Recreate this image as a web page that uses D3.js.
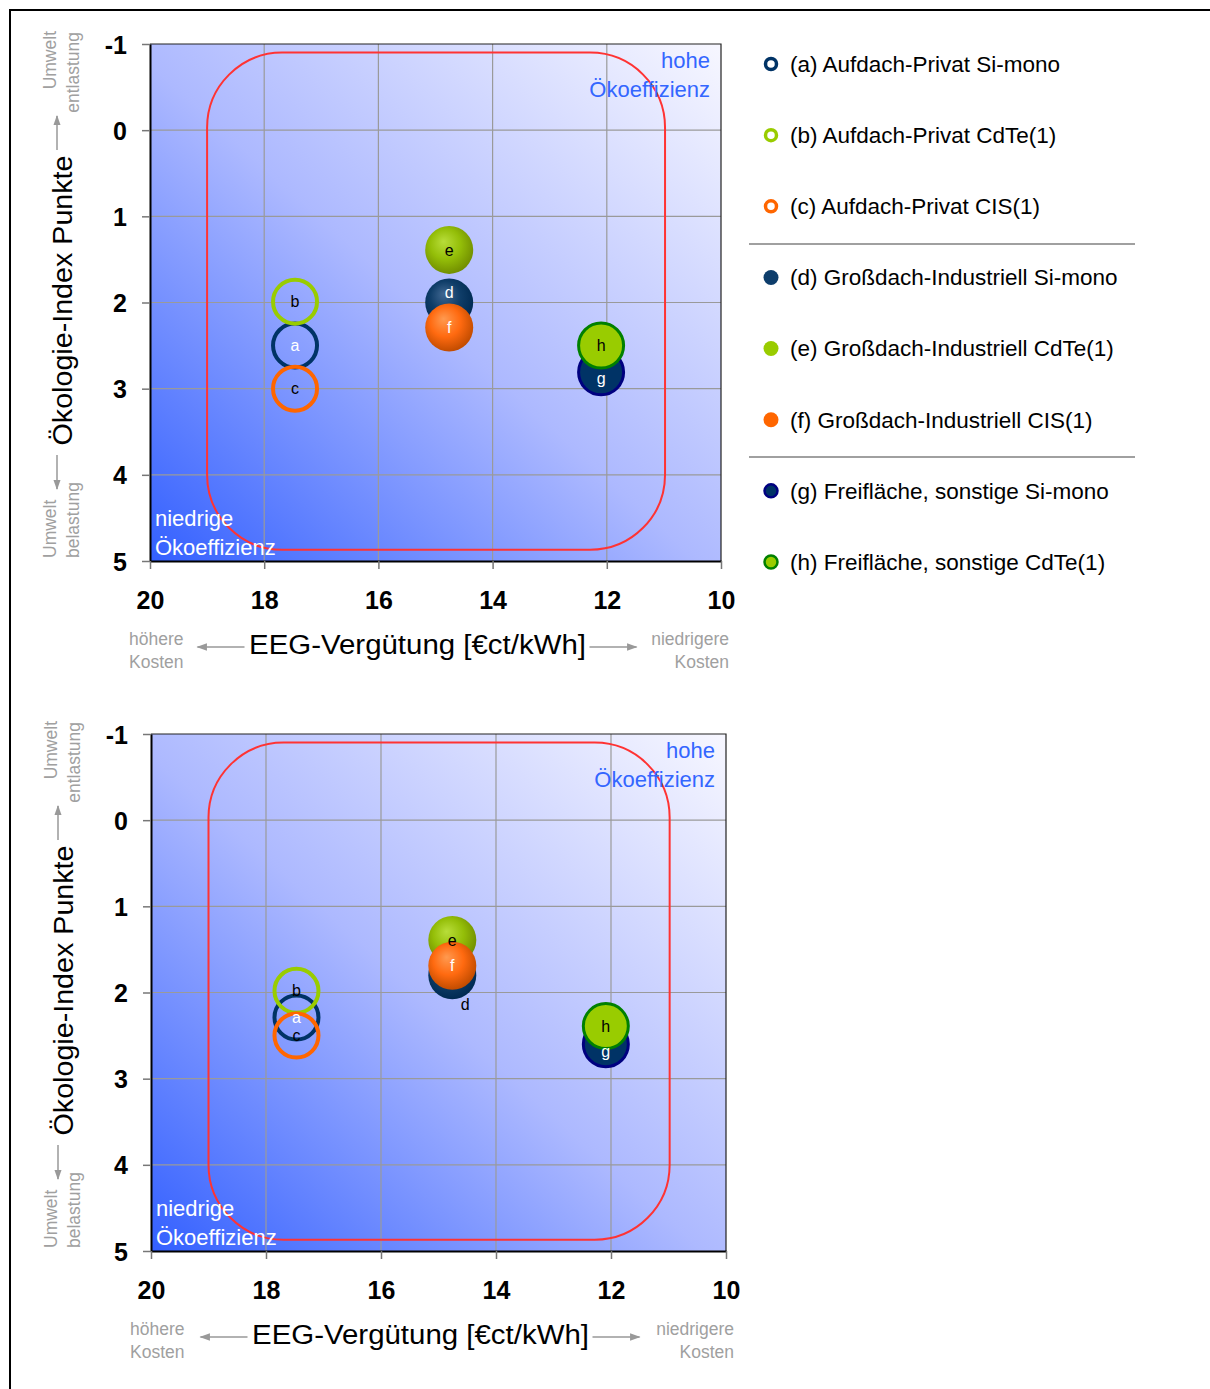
<!DOCTYPE html>
<html>
<head>
<meta charset="utf-8">
<script src="https://cdn.jsdelivr.net/npm/d3@7"></script>
<style>
  html, body { margin: 0; padding: 0; background: #fff; }
  svg { display: block; font-family: "Liberation Sans", Arial, sans-serif; }
</style>
</head>
<body>
<svg id="chart" width="1210" height="1389"></svg>
<script>
// Series identifiers and legend entries
const seriesIds = ["a", "b", "c", "d", "e", "f", "g", "h"];
const seriesLabels = [
  "(a) Aufdach-Privat Si-mono",
  "(b) Aufdach-Privat CdTe(1)",
  "(c) Aufdach-Privat CIS(1)",
  "(d) Großdach-Industriell Si-mono",
  "(e) Großdach-Industriell CdTe(1)",
  "(f) Großdach-Industriell CIS(1)",
  "(g) Freifläche, sonstige Si-mono",
  "(h) Freifläche, sonstige CdTe(1)"
];

// Upper panel: EEG feed-in tariff [€ct/kWh] and eco-index points
const tariffUpper = [17.46, 17.46, 17.46, 14.76, 14.76, 14.76, 12.1, 12.1];
const ecoUpper    = [2.5, 1.99, 3.0, 2.0, 1.39, 2.29, 2.81, 2.5];

// Lower panel
const tariffLower = [17.47, 17.47, 17.47, 14.76, 14.76, 14.76, 12.09, 12.09];
const ecoLower    = [2.29, 1.98, 2.5, 1.8, 1.39, 1.69, 2.6, 2.39];

// Axis ticks
const xTicks = [20, 18, 16, 14, 12, 10];
const yTicks = [-1, 0, 1, 2, 3, 4, 5];

// Eco-efficiency zone outline (data units)
const zoneX = [19.0, 10.98];
const zoneY = [-0.9, 4.87];

const svg = d3.select("#chart");
const defs = svg.append("defs");

// Background gradient: saturated blue bottom-left to near-white top-right
const bg = defs.append("linearGradient").attr("id", "bgGrad")
  .attr("x1", 0).attr("y1", 1).attr("x2", 1).attr("y2", 0);
bg.append("stop").attr("offset", "0%").attr("stop-color", "#3360ff");
bg.append("stop").attr("offset", "48%").attr("stop-color", "#adb9ff");
bg.append("stop").attr("offset", "100%").attr("stop-color", "#f7f7ff");

// Shaded ball gradients
function ball(id, light, mid, dark) {
  const g = defs.append("radialGradient").attr("id", id)
    .attr("cx", "45%").attr("cy", "42%").attr("r", "58%")
    .attr("fx", "38%").attr("fy", "32%");
  g.append("stop").attr("offset", "0%").attr("stop-color", light);
  g.append("stop").attr("offset", "55%").attr("stop-color", mid);
  g.append("stop").attr("offset", "100%").attr("stop-color", dark);
}
ball("ballD", "#3f6690", "#0f3d68", "#002a52");
ball("ballE", "#b8dd3a", "#94be08", "#728f00");
ball("ballF", "#ff9a50", "#ff6a10", "#c24c00");

// Marker style per series
const markerStyle = {
  a: { fill: "none", stroke: "#003366", sw: 4, text: "#ffffff" },
  b: { fill: "none", stroke: "#99cc00", sw: 4, text: "#000000" },
  c: { fill: "none", stroke: "#ff6600", sw: 4, text: "#000000" },
  d: { fill: "url(#ballD)", stroke: "none", sw: 0, text: "#ffffff" },
  e: { fill: "url(#ballE)", stroke: "none", sw: 0, text: "#000000" },
  f: { fill: "url(#ballF)", stroke: "none", sw: 0, text: "#ffffff" },
  g: { fill: "#003366", stroke: "#000080", sw: 3, text: "#ffffff" },
  h: { fill: "#99cc00", stroke: "#008000", sw: 3, text: "#000000" }
};

// Outer frame
svg.append("rect").attr("x", 10).attr("y", 10)
  .attr("width", 1220).attr("height", 1400)
  .attr("fill", "none").attr("stroke", "#000").attr("stroke-width", 2);

// Arrow marker for annotation arrows
defs.append("marker").attr("id", "arrowHead")
  .attr("viewBox", "0 0 10 10").attr("refX", 9).attr("refY", 5)
  .attr("markerWidth", 7).attr("markerHeight", 7).attr("orient", "auto")
  .append("path").attr("d", "M0,1.5 L10,5 L0,8.5 Z").attr("fill", "#999");

function drawPanel(cfg) {
  const { left, top, width, height, xs, ys, labelShift, labelColor } = cfg;
  const right = left + width, bottom = top + height;
  const x = d3.scaleLinear().domain([20, 10]).range([left, right]);
  const y = d3.scaleLinear().domain([-1, 5]).range([top, bottom]);
  const g = svg.append("g");

  // Plot background
  g.append("rect").attr("x", left).attr("y", top)
    .attr("width", width).attr("height", height).attr("fill", "url(#bgGrad)");

  // Grid
  g.append("g").selectAll("line").data(xTicks.slice(1, -1)).join("line")
    .attr("x1", d => x(d)).attr("x2", d => x(d))
    .attr("y1", top).attr("y2", bottom)
    .attr("stroke", "#9a9a9a").attr("stroke-width", 1.2);
  g.append("g").selectAll("line").data(yTicks.slice(1, -1)).join("line")
    .attr("x1", left).attr("x2", right)
    .attr("y1", d => y(d)).attr("y2", d => y(d))
    .attr("stroke", "#9a9a9a").attr("stroke-width", 1.2);

  // Thin frame on top/right
  g.append("path")
    .attr("d", `M${left},${top}H${right}V${bottom}`)
    .attr("fill", "none").attr("stroke", "#222").attr("stroke-width", 1.2);

  // Axes
  const yAxis = d3.axisLeft(y).tickValues(yTicks).tickSize(8).tickSizeOuter(0)
    .tickPadding(15).tickFormat(d => String(d));
  const xAxis = d3.axisBottom(x).tickValues(xTicks).tickSize(8).tickSizeOuter(0)
    .tickPadding(22).tickFormat(d => String(d));
  const ya = g.append("g").attr("transform", `translate(${left},0)`).call(yAxis);
  const xa = g.append("g").attr("transform", `translate(0,${bottom})`).call(xAxis);
  [ya, xa].forEach(a => {
    a.select(".domain").attr("stroke", "#000").attr("stroke-width", 2);
    a.selectAll(".tick line").attr("stroke", "#777").attr("stroke-width", 1.5);
    a.selectAll(".tick text").attr("fill", "#000")
      .style("font-size", "25px").style("font-weight", "bold")
      .style("font-family", "'Liberation Sans', Arial, sans-serif");
  });
  ya.selectAll(".tick text").attr("dy", "0.36em");
  xa.selectAll(".tick text").attr("dy", "0.71em");

  // Eco-efficiency zone
  g.append("rect")
    .attr("x", x(zoneX[0])).attr("y", y(zoneY[0]))
    .attr("width", x(zoneX[1]) - x(zoneX[0]))
    .attr("height", y(zoneY[1]) - y(zoneY[0]))
    .attr("rx", 75).attr("ry", 75)
    .attr("fill", "none").attr("stroke", "#ff3333").attr("stroke-width", 2);

  // Corner captions
  g.append("text").attr("x", right - 11).attr("y", top + 24)
    .attr("text-anchor", "end").attr("fill", "#3366ff").style("font-size", "22px").text("hohe");
  g.append("text").attr("x", right - 11).attr("y", top + 53)
    .attr("text-anchor", "end").attr("fill", "#3366ff").style("font-size", "22px").text("Ökoeffizienz");
  g.append("text").attr("x", left + 5).attr("y", bottom - 35)
    .attr("fill", "#ffffff").style("font-size", "22px").text("niedrige");
  g.append("text").attr("x", left + 5).attr("y", bottom - 6)
    .attr("fill", "#ffffff").style("font-size", "22px").text("Ökoeffizienz");

  // Markers
  const pts = seriesIds.map((id, i) => ({ id, cx: x(xs[i]), cy: y(ys[i]) }));
  g.append("g").selectAll("circle").data(pts).join("circle")
    .attr("cx", d => d.cx).attr("cy", d => d.cy)
    .attr("r", d => markerStyle[d.id].sw ? 24 - markerStyle[d.id].sw / 2 : 24)
    .attr("fill", d => markerStyle[d.id].fill)
    .attr("stroke", d => markerStyle[d.id].stroke)
    .attr("stroke-width", d => markerStyle[d.id].sw);
  g.append("g").selectAll("text").data(pts).join("text")
    .attr("x", d => d.cx + (labelShift[d.id] ? labelShift[d.id][0] : 0))
    .attr("y", d => d.cy + (labelShift[d.id] ? labelShift[d.id][1] : 0))
    .attr("dy", "0.35em").attr("text-anchor", "middle")
    .attr("fill", d => (labelColor && labelColor[d.id]) || markerStyle[d.id].text)
    .style("font-size", "16px").text(d => d.id);

  // Axis titles
  const ty = top + height / 2;
  g.append("text").attr("transform", `translate(${left - 88},${ty - 2}) rotate(-90)`)
    .attr("text-anchor", "middle").attr("dy", "0.35em")
    .attr("fill", "#000").style("font-size", "28px")
    .attr("textLength", 290).attr("lengthAdjust", "spacingAndGlyphs")
    .text("Ökologie-Index Punkte");
  const ax = left - 93;
  g.append("line").attr("x1", ax).attr("x2", ax).attr("y1", top + 106).attr("y2", top + 72)
    .attr("stroke", "#999").attr("stroke-width", 1.5).attr("marker-end", "url(#arrowHead)");
  g.append("line").attr("x1", ax).attr("x2", ax).attr("y1", top + 411).attr("y2", top + 445)
    .attr("stroke", "#999").attr("stroke-width", 1.5).attr("marker-end", "url(#arrowHead)");
  const sideText = (tx, tyy, anchor, txt) =>
    g.append("text").attr("transform", `translate(${tx},${tyy}) rotate(-90)`)
      .attr("text-anchor", anchor).attr("fill", "#a0a0a0").style("font-size", "17.5px").text(txt);
  sideText(left - 94, top - 13, "end", "Umwelt");
  sideText(left - 71, top - 12, "end", "entlastung");
  sideText(left - 94, bottom - 3, "start", "Umwelt");
  sideText(left - 71, bottom - 3, "start", "belastung");

  const tx = left + width / 2 - 18;
  g.append("text").attr("x", tx).attr("y", bottom + 93)
    .attr("text-anchor", "middle").attr("fill", "#000").style("font-size", "27px")
    .attr("textLength", 337).attr("lengthAdjust", "spacingAndGlyphs")
    .text("EEG-Vergütung [€ct/kWh]");
  g.append("line").attr("x1", tx - 173).attr("x2", tx - 220).attr("y1", bottom + 86).attr("y2", bottom + 86)
    .attr("stroke", "#999").attr("stroke-width", 1.5).attr("marker-end", "url(#arrowHead)");
  g.append("line").attr("x1", tx + 172).attr("x2", tx + 219).attr("y1", bottom + 86).attr("y2", bottom + 86)
    .attr("stroke", "#999").attr("stroke-width", 1.5).attr("marker-end", "url(#arrowHead)");
  const smallText = (xx, yy, anchor, txt) =>
    g.append("text").attr("x", xx).attr("y", yy).attr("text-anchor", anchor)
      .attr("fill", "#a0a0a0").style("font-size", "17.5px").text(txt);
  smallText(left - 21, bottom + 84, "start", "höhere");
  smallText(left - 21, bottom + 107, "start", "Kosten");
  smallText(right + 8, bottom + 84, "end", "niedrigere");
  smallText(right + 8, bottom + 107, "end", "Kosten");
}

drawPanel({
  left: 150, top: 44, width: 571, height: 517,
  xs: tariffUpper, ys: ecoUpper,
  labelShift: { d: [0, -10], g: [0, 6] }
});
drawPanel({
  left: 151, top: 734, width: 575, height: 517,
  xs: tariffLower, ys: ecoLower,
  labelShift: { d: [13, 29], g: [0, 7] },
  labelColor: { d: "#000000" }
});

// Legend
const legendY = d3.scalePoint().domain(seriesIds).range([64, 562]);
const legendMark = {
  a: { r: 5.5, fill: "none", stroke: "#003366", sw: 3.5 },
  b: { r: 5.5, fill: "none", stroke: "#99cc00", sw: 3.5 },
  c: { r: 5.5, fill: "none", stroke: "#ff6600", sw: 3.5 },
  d: { r: 7.5, fill: "#0d3d6b", stroke: "none", sw: 0 },
  e: { r: 7.5, fill: "#99cc00", stroke: "none", sw: 0 },
  f: { r: 7.5, fill: "#ff6600", stroke: "none", sw: 0 },
  g: { r: 6.5, fill: "#003366", stroke: "#000080", sw: 2.5 },
  h: { r: 6.5, fill: "#99cc00", stroke: "#008000", sw: 2.5 }
};
const leg = svg.append("g");
leg.selectAll("circle").data(seriesIds).join("circle")
  .attr("cx", 771).attr("cy", d => legendY(d))
  .attr("r", d => legendMark[d].r)
  .attr("fill", d => legendMark[d].fill)
  .attr("stroke", d => legendMark[d].stroke)
  .attr("stroke-width", d => legendMark[d].sw);
leg.selectAll("text").data(seriesIds).join("text")
  .attr("x", 790).attr("y", d => legendY(d)).attr("dy", "0.35em")
  .attr("fill", "#000").style("font-size", "22.5px")
  .text((d, i) => seriesLabels[i]);
leg.selectAll("line.sep").data([244, 457]).join("line").attr("class", "sep")
  .attr("x1", 749).attr("x2", 1135).attr("y1", d => d).attr("y2", d => d)
  .attr("stroke", "#a0a0a0").attr("stroke-width", 2);
</script>
</body>
</html>
